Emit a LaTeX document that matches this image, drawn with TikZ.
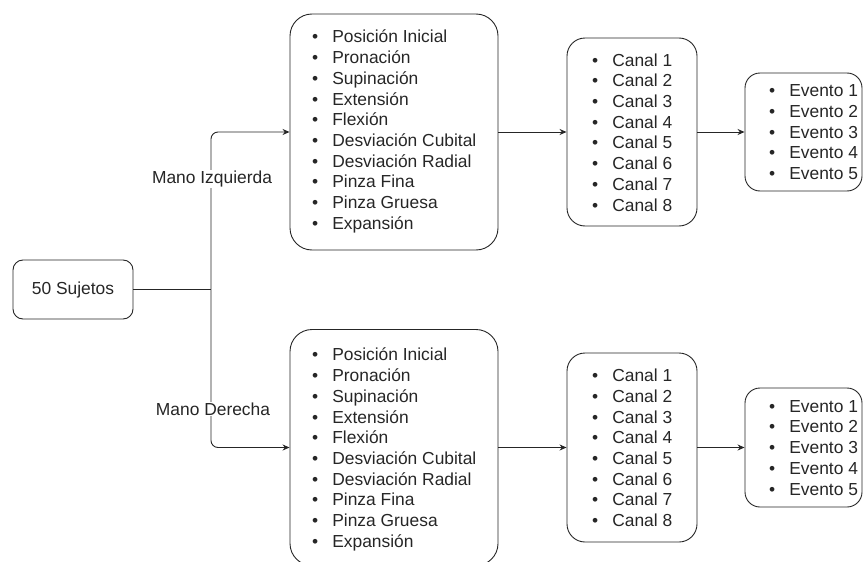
\documentclass[tikz,border=0pt]{standalone}
\usepackage{fontspec}
\setmainfont{Liberation Sans}
\usetikzlibrary{arrows.meta}
\definecolor{txt}{HTML}{262626}
\newcommand{\lst}[1]{{\fontsize{17.4}{20.7}\selectfont\begin{tabular}{@{}l@{\hspace{14pt}}l@{}}#1\end{tabular}}}
\newcommand{\bi}{\textbullet &}
\begin{document}
\begin{tikzpicture}[x=1pt,y=-1pt,
  box/.style={draw=black!85, line width=0.9pt, rounded corners=#1, inner sep=0pt},
  box/.default=18pt,
  lst/.style={anchor=west, inner sep=0pt, text=txt},
  conn/.style={draw=black!85, line width=0.9pt, -{Stealth[length=7pt,width=6pt]}},
  lbl/.style={fill=white, inner sep=1pt, text=txt, font=\fontsize{17.4}{20.7}\selectfont}]
\useasboundingbox (0,0) rectangle (863,562);

% boxes
\node[box=10pt, minimum width=120pt, minimum height=59pt, text=txt, font=\fontsize{17.4}{20.7}\selectfont] (suj) at (73,289.5) {50 Sujetos};
\node[box=22pt, minimum width=208pt, minimum height=236pt] (bigT) at (394,132) {};
\node[box=18pt, minimum width=130pt, minimum height=188pt] (canT) at (632,132) {};
\node[box=15pt, minimum width=117pt, minimum height=118pt] (evT) at (803.5,132) {};
\node[box=22pt, minimum width=208pt, minimum height=236pt] (bigB) at (394,447.5) {};
\node[box=18pt, minimum width=130pt, minimum height=189pt] (canB) at (632,447.5) {};
\node[box=15pt, minimum width=117pt, minimum height=119pt] (evB) at (803.5,447.5) {};

% lists
\node[lst] (lbigT) at (312,132) {\lst{\bi Posición Inicial\\ \bi Pronación\\ \bi Supinación\\ \bi Extensión\\ \bi Flexión\\ \bi Desviación Cubital\\ \bi Desviación Radial\\ \bi Pinza Fina\\ \bi Pinza Gruesa\\ \bi Expansión}};
\node[lst] (lbigB) at (312,450) {\lst{\bi Posición Inicial\\ \bi Pronación\\ \bi Supinación\\ \bi Extensión\\ \bi Flexión\\ \bi Desviación Cubital\\ \bi Desviación Radial\\ \bi Pinza Fina\\ \bi Pinza Gruesa\\ \bi Expansión}};
\node[lst] (lcanT) at (592,134.5) {\lst{\bi Canal 1\\ \bi Canal 2\\ \bi Canal 3\\ \bi Canal 4\\ \bi Canal 5\\ \bi Canal 6\\ \bi Canal 7\\ \bi Canal 8}};
\node[lst] (lcanB) at (592,450) {\lst{\bi Canal 1\\ \bi Canal 2\\ \bi Canal 3\\ \bi Canal 4\\ \bi Canal 5\\ \bi Canal 6\\ \bi Canal 7\\ \bi Canal 8}};
\node[lst] (levT) at (769,134) {\lst{\bi Evento 1\\ \bi Evento 2\\ \bi Evento 3\\ \bi Evento 4\\ \bi Evento 5}};
\node[lst] (levB) at (769,449.5) {\lst{\bi Evento 1\\ \bi Evento 2\\ \bi Evento 3\\ \bi Evento 4\\ \bi Evento 5}};

% connectors
\coordinate (J) at (211,289.5);
\draw[draw=black!85, line width=0.9pt] (suj.east) -- (J);
\draw[conn, rounded corners=7pt] (J) |- (bigT.west);
\draw[conn, rounded corners=7pt] (J) |- (bigB.west);
\draw[conn] (bigT.east) -- (canT.west);
\draw[conn] (canT.east) -- (evT.west);
\draw[conn] (bigB.east) -- (canB.west);
\draw[conn] (canB.east) -- (evB.west);

% labels
\node[lbl] (mi) at (212,179) {Mano Izquierda};
\node[lbl] (md) at (213,409) {Mano Derecha};
\end{tikzpicture}
\end{document}
